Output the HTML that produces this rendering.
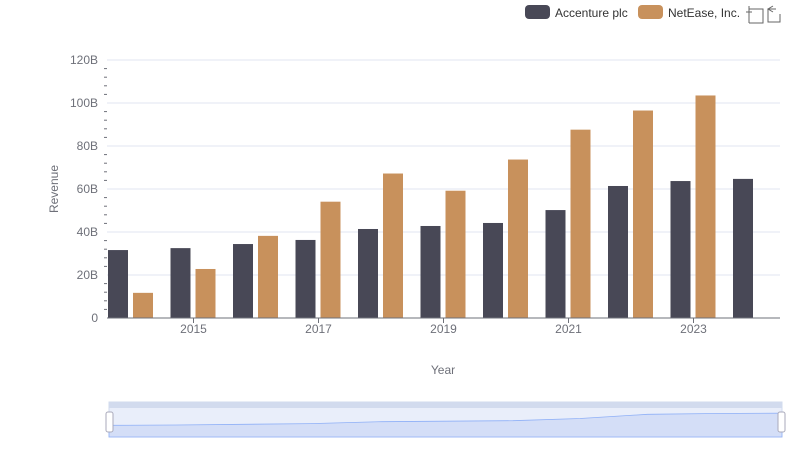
<!DOCTYPE html>
<html><head><meta charset="utf-8"><style>
body{margin:0;background:#fff;font-family:"Liberation Sans",sans-serif}
svg{display:block}
</style></head><body>
<svg id="c" width="800" height="461" xmlns="http://www.w3.org/2000/svg">
<g id="grid"></g>
<g id="bars"></g>
<g id="axes"></g>
<text x="58" y="189" transform="rotate(-90 58 189)" text-anchor="middle" font-size="12" fill="#6e7079">Revenue</text>
<text x="443" y="374" text-anchor="middle" font-size="12" fill="#6e7079">Year</text>
<g>
<g><rect x="525" y="5" width="25" height="14" rx="4" fill="#484856"/><text x="555" y="17" font-size="12" fill="#333">Accenture plc</text></g>
<g><rect x="638" y="5" width="25" height="14" rx="4" fill="#c8915c"/><text x="668" y="17" font-size="12" fill="#333">NetEase, Inc.</text></g>
</g>
<g stroke="#666" fill="none"><path d="M749 9v14M749 9h14v14h-14M746 12h6M749 6v6"/></g>
<g stroke="#666" fill="none"><path d="M776 9h-8v13h12v-8M773 6l-5 3 5 3"/></g>
<g>
<rect x="109" y="402" width="673" height="35" fill="#e9eefa" stroke="#d2dbee"/>
<rect x="109" y="402" width="673" height="6" fill="#d2dbee"/>
<path id="spark" fill="#d4def7" stroke="#8fb0f7" stroke-width="0.8"/>
<rect x="106" y="412" width="7" height="20" rx="2" fill="#fff" stroke="#aab"/>
<rect x="778" y="412" width="7" height="20" rx="2" fill="#fff" stroke="#aab"/>
</g>
</svg>
<script>
const years=["2014","2015","2016","2017","2018","2019","2020","2021","2022","2023","2024"];
const accenture=[31.6,32.5,34.4,36.3,41.4,42.8,44.2,50.2,61.4,63.7,64.7];
const netease=[11.7,22.8,38.2,54.1,67.2,59.2,73.7,87.6,96.5,103.5,null];
const yTicks=[0,20,40,60,80,100,120];
const yLabels=["0","20B","40B","60B","80B","100B","120B"];
const NS="http://www.w3.org/2000/svg";
const x0=107,x1=780,yb=318,yt=60,band=62.5,first=131;
const y=v=>yb-(v/120)*(yb-yt);
const xc=i=>first+band*i;
function mk(t,a,p){const e=document.createElementNS(NS,t);for(const k in a)e.setAttribute(k,a[k]);p.appendChild(e);return e;}
const g=document.getElementById('grid'),b=document.getElementById('bars'),ax=document.getElementById('axes');
yTicks.forEach((v,i)=>{
 const l=mk('line',{x1:x0,x2:x1,y1:y(v),y2:y(v),stroke:i?'#e0e6f1':'#6e7079'},g);
 
 const t=mk('text',{x:x0-9,y:y(v)+4,'text-anchor':'end','font-size':12,fill:'#6e7079'},ax);
 t.textContent=yLabels[i];
});
for(let v=4;v<120;v+=4){if(v%20)mk('line',{x1:x0-3,x2:x0,y1:y(v),y2:y(v),stroke:'#6e7079'},ax);}
years.forEach((yr,i)=>{
 const c=xc(i);
 const a=mk('rect',{x:c-23,y:y(accenture[i]),width:20,height:yb-y(accenture[i]),fill:'#484856'},b);
 
 if(netease[i]!=null){const n=mk('rect',{x:c+2,y:y(netease[i]),width:20,height:yb-y(netease[i]),fill:'#c8915c'},b);
 }
 if(i%2==1){const t=mk('text',{x:c,y:333,'text-anchor':'middle','font-size':12,fill:'#6e7079'},ax);
 t.textContent=yr;
 mk('line',{x1:c,x2:c,y1:yb,y2:yb+5,stroke:'#6e7079'},ax);}
});
mk('line',{x1:x0,x2:x1,y1:yb,y2:yb,stroke:'#6e7079'},ax);
let d='M109 437';
years.forEach((yr,i)=>{const sx=109+673*i/(years.length-1);const sy=437-accenture[i]/120*35*0.3*4/3;d+=' L'+sx+' '+(437-accenture[i]/65*24);});
d+=' L782 437Z';document.getElementById('spark').setAttribute('d',d);
</script>
</body></html>
